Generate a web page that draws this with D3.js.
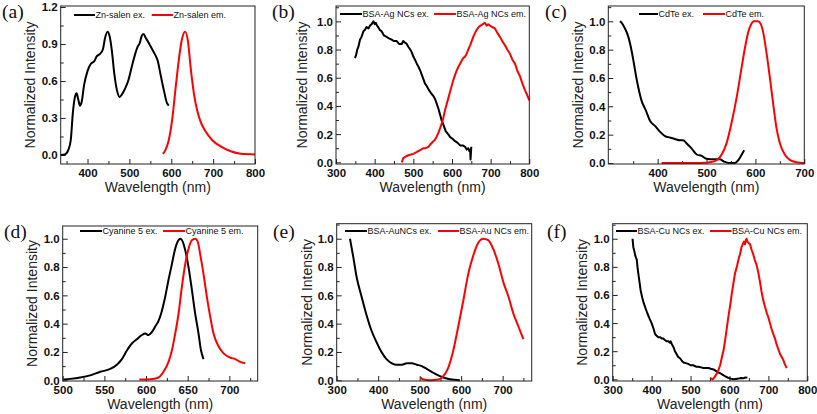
<!DOCTYPE html>
<html><head><meta charset="utf-8">
<script src="https://cdn.jsdelivr.net/npm/d3@7"></script>
<style>
body{margin:0;background:#fff;}
svg{display:block;}
.tick text{font-family:"Liberation Sans",Arial,sans-serif;font-weight:bold;font-size:11.5px;fill:#111;}
.tick line{stroke:#222;stroke-width:1;}
</style></head>
<body>
<svg id="chart" width="817" height="414"></svg>
<script>
// ---------- DATA ----------
const panelLabels = ["(a)","(b)","(c)","(d)","(e)","(f)"];
const exLegend = ["Zn-salen ex.","BSA-Ag NCs ex.","CdTe ex.","Cyanine 5 ex.","BSA-AuNCs ex.","BSA-Cu NCs ex."];
const emLegend = ["Zn-salen em.","BSA-Ag NCs em.","CdTe em.","Cyanine 5 em.","BSA-Au NCs em.","BSA-Cu NCs em."];
const xTitle = "Wavelength (nm)";
const yTitle = "Normalized Intensity";

const xTicksA = [400,500,600,700,800];
const xTicksB = [300,400,500,600,700,800];
const xTicksC = [400,500,600,700];
const xTicksD = [500,550,600,650,700];
const xTicksE = [300,400,500,600,700];
const xTicksF = [300,400,500,600,700,800];
const yTicksA = [0.0,0.3,0.6,0.9,1.2];
const yTicksB = [0.0,0.2,0.4,0.6,0.8,1.0];

// (a) Zn-salen
const znSalenEx = [[336,0],[346,0.005],[354,0.04],[360,0.12],[365,0.34],[370,0.47],[374,0.5],[378,0.45],[382,0.40],[386,0.43],[392,0.57],[400,0.68],[408,0.74],[416,0.76],[422,0.80],[430,0.82],[437,0.86],[442,0.95],[448,1.0],[453,0.96],[458,0.85],[464,0.66],[470,0.53],[477,0.47],[482,0.49],[490,0.54],[498,0.61],[506,0.72],[514,0.82],[520,0.88],[525,0.91],[530,0.97],[534,0.98],[539,0.95],[546,0.91],[554,0.86],[562,0.81],[568,0.76],[574,0.66],[582,0.53],[590,0.42],[594,0.40]];
const znSalenEm = [[580,0.01],[586,0.04],[594,0.12],[602,0.28],[610,0.53],[618,0.77],[625,0.93],[633,1.0],[640,0.92],[646,0.72],[654,0.50],[662,0.36],[670,0.27],[682,0.19],[698,0.12],[718,0.07],[742,0.03],[766,0.01],[800,0.005]];
// (b) BSA-Ag NCs
const agEx = [[349,0.74],[352,0.76],[355,0.80],[358,0.82],[362,0.87],[366,0.89],[371,0.93],[375,0.94],[379,0.96],[384,0.95],[388,0.97],[392,0.98],[397,1.0],[400,0.98],[403,0.99],[406,0.97],[409,0.96],[413,0.94],[418,0.93],[424,0.90],[431,0.89],[437,0.88],[444,0.87],[450,0.86],[457,0.86],[463,0.84],[470,0.84],[474,0.86],[478,0.85],[483,0.84],[487,0.82],[492,0.80],[496,0.78],[500,0.75],[504,0.73],[509,0.70],[513,0.68],[518,0.65],[522,0.62],[526,0.59],[530,0.56],[535,0.54],[541,0.51],[546,0.49],[552,0.47],[556,0.45],[560,0.42],[565,0.38],[569,0.34],[573,0.30],[576,0.28],[580,0.25],[584,0.22],[590,0.20],[595,0.18],[600,0.17],[608,0.15],[614,0.14],[621,0.12],[628,0.12],[634,0.11],[638,0.09],[642,0.10],[645,0.08],[647,0.09],[648,0.02],[650,0.11]];
const agEm = [[470,0.0],[474,0.03],[480,0.04],[487,0.05],[494,0.055],[500,0.06],[507,0.07],[513,0.08],[520,0.09],[526,0.10],[532,0.10],[539,0.11],[545,0.13],[552,0.15],[556,0.16],[560,0.18],[565,0.21],[569,0.24],[574,0.28],[578,0.32],[582,0.37],[586,0.41],[590,0.45],[595,0.50],[599,0.54],[603,0.58],[608,0.62],[612,0.65],[617,0.68],[621,0.70],[625,0.72],[629,0.74],[634,0.75],[638,0.77],[642,0.80],[647,0.83],[651,0.86],[655,0.89],[660,0.92],[664,0.94],[669,0.96],[674,0.97],[680,0.98],[685,0.99],[690,0.97],[694,0.98],[698,0.97],[704,0.96],[711,0.95],[717,0.92],[724,0.89],[730,0.86],[737,0.83],[743,0.80],[750,0.77],[756,0.73],[763,0.70],[769,0.65],[776,0.61],[782,0.56],[789,0.51],[794,0.48],[800,0.44]];
// (c) CdTe
const cdteEx = [[323,1.0],[326,0.99],[333,0.95],[340,0.89],[345,0.82],[350,0.73],[356,0.61],[360,0.54],[367,0.44],[376,0.37],[384,0.30],[395,0.26],[405,0.22],[415,0.19],[425,0.18],[435,0.17],[446,0.16],[452,0.16],[459,0.14],[470,0.10],[480,0.06],[490,0.05],[500,0.03],[514,0.026],[527,0.026],[536,0.01],[545,0.0],[558,0.0],[565,0.02],[572,0.06],[577,0.09]];
const cdteEm = [[408,0.0],[487,0.0],[507,0.005],[521,0.02],[531,0.06],[541,0.14],[551,0.28],[562,0.47],[572,0.68],[579,0.82],[585,0.92],[590,0.97],[597,1.0],[605,1.0],[611,0.98],[616,0.92],[623,0.77],[630,0.59],[637,0.40],[643,0.25],[650,0.14],[660,0.06],[671,0.02],[684,0.005],[700,0]];
// (d) Cyanine 5
const cy5Ex = [[501,0.005],[509,0.01],[521,0.02],[533,0.035],[545,0.06],[557,0.08],[565,0.11],[571,0.15],[577,0.21],[583,0.26],[589,0.29],[595,0.32],[599,0.33],[603,0.32],[607,0.34],[611,0.38],[615,0.42],[619,0.49],[623,0.59],[627,0.71],[631,0.82],[635,0.93],[639,0.99],[641,1.0],[644,0.98],[647,0.92],[651,0.80],[655,0.64],[659,0.47],[663,0.33],[666,0.21],[669,0.15]];
const cy5Em = [[592,0.005],[605,0.007],[615,0.02],[621,0.06],[627,0.13],[631,0.21],[635,0.33],[639,0.47],[643,0.66],[647,0.82],[651,0.93],[655,0.99],[659,1.0],[662,0.98],[665,0.89],[669,0.75],[673,0.59],[677,0.45],[681,0.33],[687,0.24],[693,0.19],[701,0.16],[707,0.15],[713,0.13],[719,0.12]];
// (e) BSA-Au NCs
const auEx = [[332,1.0],[340,0.87],[348,0.73],[360,0.59],[372,0.46],[384,0.35],[396,0.27],[408,0.20],[420,0.15],[433,0.12],[445,0.11],[457,0.11],[469,0.12],[481,0.12],[493,0.11],[505,0.10],[517,0.08],[529,0.06],[541,0.04],[557,0.02],[573,0.007],[597,0.0]];
const auEm = [[502,0.02],[509,0.005],[525,0.0],[545,0.005],[557,0.03],[569,0.09],[581,0.21],[593,0.38],[605,0.56],[617,0.75],[629,0.88],[641,0.97],[653,1.0],[665,0.99],[677,0.93],[690,0.82],[702,0.69],[714,0.59],[726,0.47],[738,0.38],[750,0.29]];
// (f) BSA-Cu NCs
const cuEx = [[351,1.0],[353,0.94],[355,0.92],[358,0.88],[362,0.85],[364,0.79],[366,0.75],[369,0.69],[372,0.63],[376,0.58],[380,0.54],[385,0.50],[389,0.47],[395,0.43],[400,0.40],[405,0.36],[409,0.32],[413,0.31],[417,0.30],[422,0.30],[426,0.29],[430,0.29],[434,0.28],[439,0.27],[443,0.27],[447,0.26],[449,0.27],[452,0.25],[456,0.23],[460,0.20],[464,0.18],[468,0.16],[473,0.15],[478,0.13],[482,0.12],[488,0.115],[494,0.11],[500,0.10],[507,0.10],[514,0.09],[520,0.09],[527,0.085],[533,0.08],[540,0.08],[546,0.08],[552,0.075],[559,0.07],[565,0.06],[571,0.05],[578,0.04],[584,0.03],[590,0.02],[597,0.01],[603,0.005],[610,0.0],[617,0.003],[623,0.005],[630,0.01],[636,0.008],[641,0.013],[646,0.012]];
const cuEm = [[550,0.01],[557,0.0],[563,0.02],[567,0.04],[571,0.06],[576,0.10],[580,0.15],[585,0.21],[589,0.28],[593,0.36],[597,0.44],[602,0.53],[606,0.61],[610,0.68],[614,0.75],[619,0.80],[623,0.85],[627,0.89],[631,0.94],[634,0.96],[637,0.98],[640,0.96],[642,0.99],[644,1.0],[646,0.98],[649,0.97],[653,0.96],[657,0.92],[661,0.89],[665,0.85],[670,0.81],[674,0.76],[678,0.70],[682,0.63],[687,0.56],[691,0.52],[696,0.47],[700,0.44],[704,0.40],[708,0.36],[713,0.32],[717,0.29],[721,0.25],[726,0.21],[730,0.18],[734,0.16],[738,0.14],[742,0.11],[747,0.08]];

// ---------- LAYOUT (positions/styles) ----------
const panels = [
  {L:60.7,R:255,T:6,B:164, x:[336,800], y:[-0.073,1.208], xt:xTicksA, yt:yTicksA, ex:znSalenEx, em:znSalenEm,
   lab:[2,18], ytx:30, leg:{y:15, ex:[74,95], em:[151.7,173]}, curve:"smooth"},
  {L:336,R:529.3,T:6,B:164, x:[300,800], y:[-0.012,1.109], xt:xTicksB, yt:yTicksB, ex:agEx, em:agEm,
   lab:[272,18], ytx:301.7, leg:{y:14, ex:[340,362], em:[434,456]}, curve:"linear"},
  {L:608.3,R:804.3,T:6,B:164, x:[299,700], y:[-0.007,1.108], xt:xTicksC, yt:yTicksB, ex:cdteEx, em:cdteEm,
   lab:[545,18], ytx:578, leg:{y:14, ex:[639,658], em:[703,725]}, curve:"smooth"},
  {L:62.7,R:257.7,T:226,B:381, x:[500,734], y:[-0.005,1.09], xt:xTicksD, yt:yTicksB, ex:cy5Ex, em:cy5Em,
   lab:[4,238], ytx:31.7, leg:{y:231, ex:[80,102], em:[163,185]}, curve:"smooth"},
  {L:336.7,R:531.7,T:223.7,B:381, x:[300,770], y:[-0.005,1.106], xt:xTicksE, yt:yTicksB, ex:auEx, em:auEm,
   lab:[273,238], ytx:306.7, leg:{y:231, ex:[345,367], em:[438,459]}, curve:"smooth"},
  {L:612.7,R:807.3,T:223.7,B:381, x:[300,800], y:[-0.012,1.107], xt:xTicksF, yt:yTicksB, ex:cuEx, em:cuEm,
   lab:[547,238], ytx:581.7, leg:{y:231, ex:[616,637], em:[710,731.5]}, curve:"linear"}
];

const svg = d3.select("#chart");
const sans = "'Liberation Sans', Arial, sans-serif";

function minorTicks(ticks, dom){
  const step = ticks[1]-ticks[0];
  const out = [];
  for (let v = ticks[0]-step/2; v <= dom[1]+1e-9; v += step/2) {
    const r = Math.round(v*1000)/1000;
    if (r >= dom[0]-1e-9 && !ticks.some(t=>Math.abs(t-r)<1e-6)) out.push(r);
  }
  return out;
}

panels.forEach((p,i)=>{
  const g = svg.append("g");
  const x = d3.scaleLinear().domain(p.x).range([p.L,p.R]);
  const y = d3.scaleLinear().domain(p.y).range([p.B,p.T]);

  // axes: major
  g.append("g").attr("transform",`translate(0,${p.B})`)
    .call(d3.axisBottom(x).tickValues(p.xt).tickSize(-5).tickPadding(5).tickFormat(d3.format("d")))
    .call(a=>a.select(".domain").remove());
  g.append("g").attr("transform",`translate(${p.L},0)`)
    .call(d3.axisLeft(y).tickValues(p.yt).tickSize(-5).tickPadding(3).tickFormat(d3.format(".1f")))
    .call(a=>a.select(".domain").remove())
    .call(a=>a.selectAll(".tick text").attr("dy","0.34em"));
  // minor
  g.append("g").attr("transform",`translate(0,${p.B})`)
    .call(d3.axisBottom(x).tickValues(minorTicks(p.xt,p.x)).tickSize(-3).tickFormat(""))
    .call(a=>a.select(".domain").remove());
  g.append("g").attr("transform",`translate(${p.L},0)`)
    .call(d3.axisLeft(y).tickValues(minorTicks(p.yt,p.y)).tickSize(-3).tickFormat(""))
    .call(a=>a.select(".domain").remove());

  // curves
  const line = d3.line().x(d=>x(d[0])).y(d=>y(d[1]))
    .curve(p.curve==="smooth" ? d3.curveMonotoneX : d3.curveLinear);
  g.append("path").datum(p.ex).attr("d",line).attr("fill","none")
    .attr("stroke","#000").attr("stroke-width",2).attr("stroke-linejoin","round");
  g.append("path").datum(p.em).attr("d",line).attr("fill","none")
    .attr("stroke","#ff0000").attr("stroke-width",2).attr("stroke-linejoin","round");

  // frame
  g.append("rect").attr("x",p.L).attr("y",p.T).attr("width",p.R-p.L).attr("height",p.B-p.T)
    .attr("fill","none").attr("stroke","#222").attr("stroke-width",1);

  // legend
  const lg = p.leg;
  g.append("line").attr("x1",lg.ex[0]).attr("x2",lg.ex[1]).attr("y1",lg.y).attr("y2",lg.y)
    .attr("stroke","#000").attr("stroke-width",2);
  g.append("text").attr("x",lg.ex[1]+0.5).attr("y",lg.y+3.2).text(exLegend[i])
    .attr("font-family",sans).attr("font-size","9px").attr("fill","#111");
  g.append("line").attr("x1",lg.em[0]).attr("x2",lg.em[1]).attr("y1",lg.y).attr("y2",lg.y)
    .attr("stroke","#ff0000").attr("stroke-width",2);
  g.append("text").attr("x",lg.em[1]+0.5).attr("y",lg.y+3.2).text(emLegend[i])
    .attr("font-family",sans).attr("font-size","9px").attr("fill","#111");

  // titles
  g.append("text").attr("x",(p.L+p.R)/2).attr("y",p.B+28).attr("text-anchor","middle")
    .attr("font-family",sans).attr("font-size","14px").attr("fill","#222").text(xTitle);
  const cy = (p.T+p.B)/2;
  g.append("text").attr("transform",`translate(${p.ytx+5},${cy}) rotate(-90)`).attr("text-anchor","middle")
    .attr("font-family",sans).attr("font-size","14px").attr("fill","#222").text(yTitle);

  // panel label
  g.append("text").attr("x",p.lab[0]).attr("y",p.lab[1]).attr("font-family","'Liberation Serif','Times New Roman',serif")
    .attr("font-size","19.5px").attr("fill","#111").text(panelLabels[i]);
});
</script>
</body></html>
